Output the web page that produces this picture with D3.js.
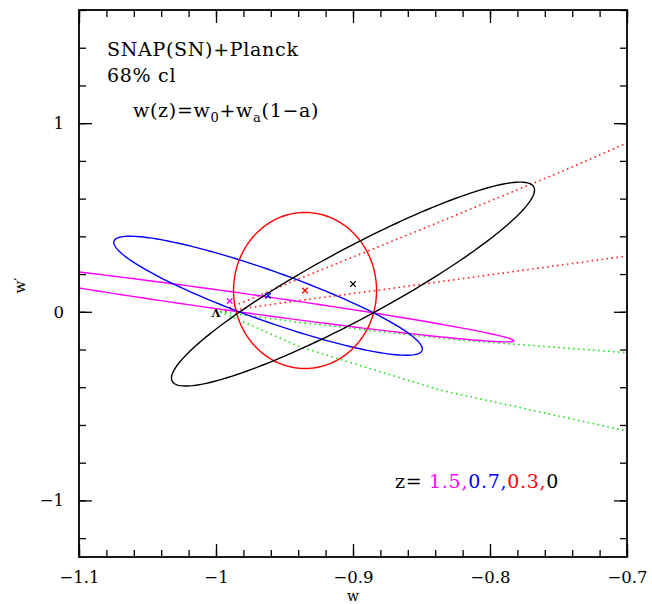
<!DOCTYPE HTML>
<html lang="en">
    <head>
        <meta charset="utf-8" />
        <title>SNAP(SN)+Planck w-w' contours</title>
        <style>
            body { margin: 0; background: #fff; }
            text { font-family: "DejaVu Serif", serif; }
        </style>
    </head>
    <body>
        <div id="chart"></div>
        <script src="https://d3js.org/d3.v7.min.js"></script>
        <script>
            // fiducial redshifts, one ellipse each
            const zLabels = ["1.5", "0.7", "0.3", "0"];
            // ellipse centres (w, w')
            const centerW = [-0.990, -0.962, -0.935, -0.900];
            const centerWp = [0.057, 0.085, 0.113, 0.147];
            // offset of the right-most point of each ellipse
            const edgeDw = [0.2075, 0.1126, 0.0522, 0.1325];
            const edgeDwp = [-0.2105, -0.2826, 0.0, 0.4984];
            // vertical half chord through the centre
            const halfChordWp = [0.0504, 0.1405, 0.4136, 0.2094];

            // dotted tracks starting at the cosmological constant
            const redUpper = [[-0.997, 0], [-0.939, 0.176], [-0.851, 0.434], [-0.745, 0.752], [-0.7, 0.895]];
            const redLower = [[-0.997, 0], [-0.939, 0.060], [-0.880, 0.116], [-0.7, 0.296]];
            const greenUpper = [[-0.997, 0], [-0.939, -0.056], [-0.880, -0.105], [-0.822, -0.150], [-0.7, -0.217]];
            const greenLower = [[-0.997, 0], [-0.939, -0.185], [-0.880, -0.318], [-0.8365, -0.415], [-0.7, -0.632]];

            const xMajor = [-1.1, -1, -0.9, -0.8, -0.7];
            const yMajor = [-1, 0, 1];

            const width = 652, height = 604;
            const plot = { left: 79, right: 627, top: 10, bottom: 557 };

            const x = d3.scaleLinear().domain([-1.1, -0.7]).range([plot.left, plot.right]);
            const y = d3.scaleLinear().domain([-1.3, 1.6]).range([plot.bottom, plot.top]);

            const color = d3.scaleOrdinal()
                .domain(zLabels)
                .range(["#ff00ff", "#0000ff", "#ff0000", "#000000"]);

            const svg = d3.select("#chart")
                .append("svg")
                .attr("width", width)
                .attr("height", height);

            svg.append("clipPath")
                .attr("id", "clip")
                .append("rect")
                .attr("x", plot.left)
                .attr("y", plot.top)
                .attr("width", plot.right - plot.left)
                .attr("height", plot.bottom - plot.top);

            const g = svg.append("g").attr("clip-path", "url(#clip)");

            const line = d3.line()
                .x(d => x(d[0]))
                .y(d => y(d[1]));

            // dotted tracks
            const tracks = [
                { pts: redUpper, c: "#ff2020" },
                { pts: redLower, c: "#ff2020" },
                { pts: greenUpper, c: "#20e020" },
                { pts: greenLower, c: "#20e020" }
            ];
            g.selectAll(".track")
                .data(tracks)
                .join("path")
                .attr("class", "track")
                .attr("d", d => line(d.pts))
                .attr("fill", "none")
                .attr("stroke", d => d.c)
                .attr("stroke-width", 1.6)
                .attr("stroke-dasharray", "1.6,3.4");

            // ellipses from centre + conjugate semi-diameters
            const steps = d3.range(0, 2 * Math.PI, Math.PI / 90);
            const ellipse = i => steps.map(t => [
                centerW[i] + Math.cos(t) * edgeDw[i],
                centerWp[i] + Math.cos(t) * edgeDwp[i] + Math.sin(t) * halfChordWp[i]
            ]);
            const closed = d3.line()
                .x(d => x(d[0]))
                .y(d => y(d[1]))
                .curve(d3.curveLinearClosed);

            g.selectAll(".ell")
                .data(zLabels)
                .join("path")
                .attr("class", "ell")
                .attr("d", (d, i) => closed(ellipse(i)))
                .attr("fill", "none")
                .attr("stroke", d => color(d))
                .attr("stroke-width", 1.4);

            // centre markers
            const cross = d3.symbol().type(d3.symbolX).size(22);
            g.selectAll(".mark")
                .data(zLabels)
                .join("path")
                .attr("class", "mark")
                .attr("transform", (d, i) => `translate(${x(centerW[i])}, ${y(centerWp[i])})`)
                .attr("d", cross)
                .attr("fill", "none")
                .attr("stroke", d => color(d))
                .attr("stroke-width", 1.3);

            svg.append("text")
                .attr("x", x(-1))
                .attr("y", y(0) + 5)
                .attr("text-anchor", "middle")
                .attr("font-size", 11)
                .attr("font-weight", "bold")
                .text("Λ");

            // axes, ticks pointing inwards
            const fmt = d3.format("");
            const minorX = d3.range(-1.1, -0.699, 0.02).map(v => +v.toFixed(2));
            const minorY = d3.range(-1.2, 1.61, 0.2).map(v => +v.toFixed(1));

            const addAxis = (axis, tx, ty, labels) => {
                const a = svg.append("g")
                    .attr("transform", `translate(${tx}, ${ty})`)
                    .call(axis);
                a.select(".domain").remove();
                a.selectAll("line").attr("stroke", "#000").attr("stroke-width", 1.3);
                a.selectAll("text")
                    .attr("font-family", "DejaVu Serif")
                    .attr("font-size", labels ? 16.5 : 0)
                    .attr("fill", "#000");
                return a;
            };

            addAxis(d3.axisBottom(x).tickValues(minorX).tickSize(-7).tickFormat(""), 0, plot.bottom, false);
            addAxis(d3.axisBottom(x).tickValues(xMajor).tickSize(-13).tickPadding(14).tickFormat(fmt), 0, plot.bottom, true);
            addAxis(d3.axisTop(x).tickValues(minorX).tickSize(-7).tickFormat(""), 0, plot.top, false);
            addAxis(d3.axisTop(x).tickValues(xMajor).tickSize(-13).tickFormat(""), 0, plot.top, false);
            addAxis(d3.axisLeft(y).tickValues(minorY).tickSize(-7).tickFormat(""), plot.left, 0, false);
            addAxis(d3.axisLeft(y).tickValues(yMajor).tickSize(-13).tickPadding(15).tickFormat(fmt), plot.left, 0, true);
            addAxis(d3.axisRight(y).tickValues(minorY).tickSize(-7).tickFormat(""), plot.right, 0, false);
            addAxis(d3.axisRight(y).tickValues(yMajor).tickSize(-13).tickFormat(""), plot.right, 0, false);

            svg.append("rect")
                .attr("x", plot.left)
                .attr("y", plot.top)
                .attr("width", plot.right - plot.left)
                .attr("height", plot.bottom - plot.top)
                .attr("fill", "none")
                .attr("stroke", "#000")
                .attr("stroke-width", 1.8);

            // axis titles
            svg.append("text")
                .attr("x", x(-0.9))
                .attr("y", 601)
                .attr("text-anchor", "middle")
                .attr("font-size", 14)
                .text("w");

            svg.append("text")
                .attr("transform", `translate(25, ${y(0.14)}) rotate(-90)`)
                .attr("text-anchor", "middle")
                .attr("font-size", 15)
                .text("w′");

            // annotations
            const note = (tx, ty) => svg.append("text")
                .attr("x", tx).attr("y", ty)
                .attr("font-size", 19)
                .attr("letter-spacing", 0.7);

            note(107, 56).text("SNAP(SN)+Planck");
            note(107, 82).text("68% cl");

            const formula = note(133, 117);
            formula.append("tspan").text("w(z)=w");
            formula.append("tspan").attr("font-size", 13).attr("dy", 5).text("0");
            formula.append("tspan").attr("dy", -5).text("+w");
            formula.append("tspan").attr("font-size", 13).attr("dy", 5).text("a");
            formula.append("tspan").attr("dy", -5).text("(1−a)");

            const legend = note(395, 488);
            legend.append("tspan").text("z= ");
            zLabels.forEach((z, i) => {
                legend.append("tspan")
                    .attr("fill", color(z))
                    .text(z + (i < zLabels.length - 1 ? "," : ""));
            });
        </script>
    </body>
</html>
